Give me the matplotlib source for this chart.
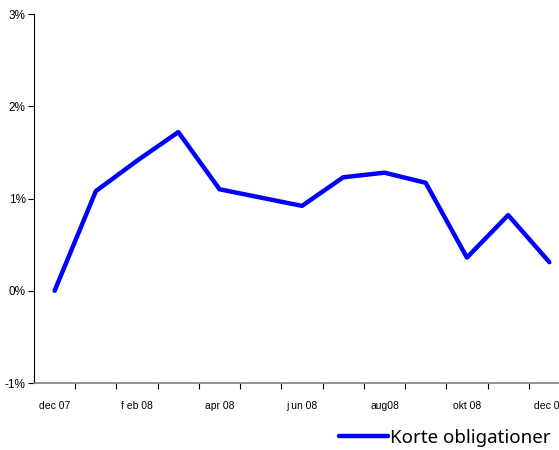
import matplotlib.pyplot as plt
from matplotlib.ticker import FixedLocator, FuncFormatter

# Data
months = ['dec 07', 'jan 08', 'f eb 08', 'mar 08', 'apr 08', 'maj 08', 'j un 08',
          'jul 08', 'aug08', 'sep 08', 'okt 08', 'nov 08', 'dec 08']
korte = [0.00, 1.08, 1.41, 1.72, 1.10, 1.01, 0.92, 1.23, 1.28, 1.17, 0.36, 0.82, 0.31]
yticks = [-1, 0, 1, 2, 3]

plt.rcParams['font.family'] = ['Liberation Sans', 'DejaVu Sans']

fig = plt.figure(figsize=(5.59, 4.5), dpi=100)
ax = fig.add_axes([34 / 559, 67 / 450, 536 / 559, 369 / 450])

x = list(range(len(months)))
ax.plot(x, korte, color='#0000FF', linewidth=3.2, solid_joinstyle='round',
        solid_capstyle='round', label='Korte obligationer')

ax.set_xlim(-0.5, len(months) - 0.5)
ax.set_ylim(-1, 3)
ax.set_yticks(yticks)
ax.yaxis.set_major_formatter(FuncFormatter(lambda v, p: f'{v:.0f}%'))
ax.tick_params(axis='y', labelsize=8.5, length=4, width=0.8, direction='out', pad=2)

# x labels every second month, tick marks between categories
ax.set_xticks(x[::2])
ax.set_xticklabels(months[::2])
ax.xaxis.set_minor_locator(FixedLocator([i + 0.5 for i in x]))
ax.tick_params(axis='x', which='major', length=0, labelsize=7.5, pad=13)
ax.tick_params(axis='x', which='minor', length=4, width=0.8, direction='out')

ax.spines['top'].set_visible(False)
ax.spines['right'].set_visible(False)
ax.spines['left'].set_color('black')
ax.spines['left'].set_linewidth(0.8)
ax.spines['bottom'].set_color('#808080')
ax.spines['bottom'].set_linewidth(1.2)

leg = fig.legend(loc='center left', bbox_to_anchor=(322 / 559, 12 / 450),
                 frameon=False, handlelength=2.6, handletextpad=0.15,
                 prop={'family': 'Noto Sans', 'size': 13.5})

fig.savefig('out.png', dpi=100)
